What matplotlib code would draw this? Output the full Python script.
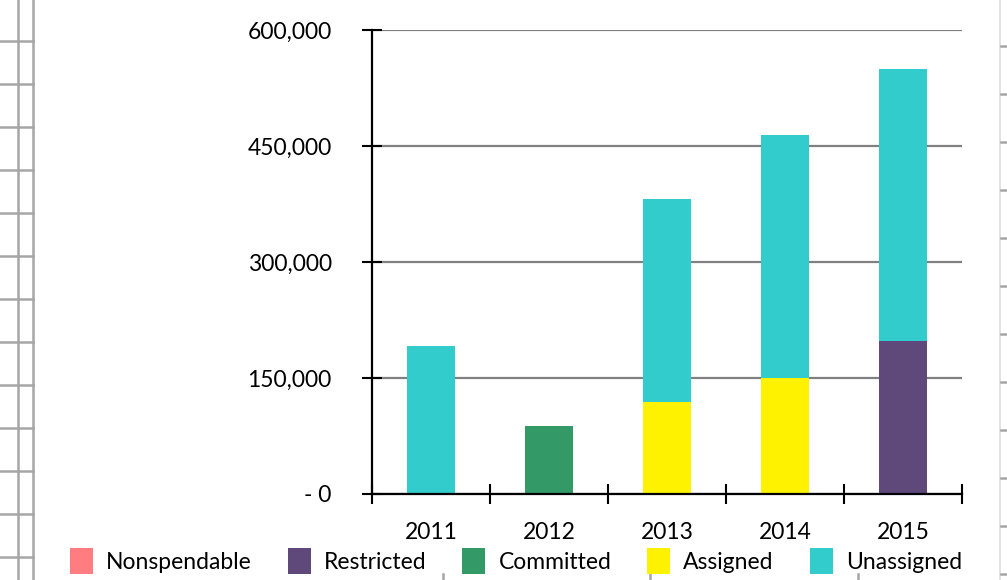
import matplotlib.pyplot as plt
from matplotlib.lines import Line2D
import numpy as np

# данные (значения в единицах)
years = ['2011', '2012', '2013', '2014', '2015']
nonspendable = [0, 0, 0, 0, 0]
restricted = [0, 0, 0, 0, 198000]
committed = [0, 88000, 0, 0, 0]
assigned = [0, 0, 119000, 150000, 0]
unassigned = [191000, 0, 262000, 314000, 352000]

series = [
    ('Nonspendable', nonspendable, '#FF7C80'),
    ('Restricted', restricted, '#5F497A'),
    ('Committed', committed, '#339966'),
    ('Assigned', assigned, '#FFF200'),
    ('Unassigned', unassigned, '#33CCCC'),
]
yticks = [0, 150000, 300000, 450000, 600000]

plt.rcParams['font.family'] = ['Lato', 'DejaVu Sans']

W, H = 1007, 580
fig = plt.figure(figsize=(W / 100, H / 100), dpi=100)
ax = fig.add_axes([372 / W, 1 - 494 / H, 590 / W, 464 / H])

x = np.arange(len(years))
bottom = np.zeros(len(years))
handles = []
for name, vals, col in series:
    b = ax.bar(x, vals, width=0.41, bottom=bottom, color=col, label=name, zorder=3)
    bottom += np.array(vals)
    handles.append(b)

ax.set_xlim(-0.5, len(years) - 0.5)
ax.set_ylim(0, 600000)
ax.set_yticks(yticks)
ax.yaxis.set_major_formatter(lambda v, p: '- 0' if v == 0 else f'{v:,.0f}')
ax.grid(axis='y', color='#808080', linewidth=1.6, zorder=0)

# подписи лет — на минорных тиках, тики-разделители — на мажорных
ax.set_xticks(np.arange(-0.5, len(years)), labels=[''] * (len(years) + 1))
ax.set_xticks(x, labels=years, minor=True)
ax.tick_params(axis='x', which='major', direction='inout', length=14, width=1.5, color='black')
ax.tick_params(axis='x', which='minor', length=0, pad=20, labelsize=16.5)
ax.tick_params(axis='y', direction='inout', length=14, width=1.5, pad=22, labelsize=16.5)

for s in ['top', 'right']:
    ax.spines[s].set_visible(False)
for s in ['left', 'bottom']:
    ax.spines[s].set_linewidth(1.6)
    ax.spines[s].set_zorder(4)

fig.legend(handles=handles, loc='center', bbox_to_anchor=(516 / W, 1 - 561 / H),
           ncol=5, frameon=False, fontsize=16.5, handlelength=1.0, handleheight=1.4,
           columnspacing=1.57, handletextpad=0.57, borderpad=0)

# фон таблицы Excel по краям
grid = '#A6A6A6'
for gx in [18, 33]:
    fig.add_artist(Line2D([gx / W, gx / W], [0, 1], color=grid, linewidth=1.8))
for gy in range(41, 560, 43):
    fig.add_artist(Line2D([0, 33 / W], [1 - gy / H, 1 - gy / H], color=grid, linewidth=1.8))
fig.add_artist(Line2D([1000 / W, 1000 / W], [0, 1], color='#DDDDDD', linewidth=1.2))
for gy in range(46, 580, 48):
    fig.add_artist(Line2D([1001 / W, 1007 / W], [1 - gy / H, 1 - gy / H], color=grid, linewidth=1.8))
for gx in [443, 650, 858]:
    fig.add_artist(Line2D([gx / W, gx / W], [0, 6 / H], color=grid, linewidth=1.8))

fig.savefig('out.png', dpi=100)
